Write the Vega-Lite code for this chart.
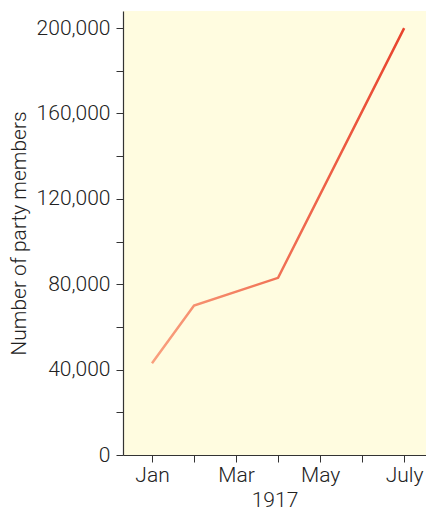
{
  "$schema": "https://vega.github.io/schema/vega-lite/v6.json",
  "width": 303,
  "height": 444,
  "autosize": "none",
  "padding": {"left": 123, "top": 11, "right": 0, "bottom": 55},
  "background": "white",
  "config": {
    "view": {"fill": "#fffce0", "stroke": null},
    "font": "Roboto, sans-serif",
    "axis": {
      "domainColor": "#333333",
      "domainWidth": 1.2,
      "tickColor": "#333333",
      "tickSize": 7,
      "labelColor": "#222222",
      "titleColor": "#222222",
      "labelFontSize": 21,
      "labelFontWeight": 300,
      "titleFontSize": 21,
      "titleFontWeight": 300,
      "grid": false
    }
  },
  "data": {
    "values": [
      {"month": 1, "members": 43000},
      {"month": 2, "members": 70000},
      {"month": 4, "members": 83000},
      {"month": 7, "members": 200000}
    ]
  },
  "mark": {
    "type": "line",
    "strokeWidth": 2.5,
    "color": {
      "x1": 0, "y1": 0, "x2": 1, "y2": 0,
      "gradient": "linear",
      "stops": [
        {"offset": 0, "color": "#f9a07e"},
        {"offset": 1, "color": "#e8442e"}
      ]
    }
  },
  "encoding": {
    "x": {
      "field": "month",
      "type": "quantitative",
      "scale": {"domain": [0.31, 7.52], "nice": false, "zero": false},
      "axis": {
        "title": "1917",
        "values": [1, 2, 3, 4, 5, 6, 7],
        "labelExpr": "datum.value == 1 ? 'Jan' : datum.value == 3 ? 'Mar' : datum.value == 5 ? 'May' : datum.value == 7 ? 'July' : ''",
        "labelPadding": 2,
        "titlePadding": 4
      }
    },
    "y": {
      "field": "members",
      "type": "quantitative",
      "scale": {"domain": [0, 208000], "nice": false},
      "axis": {
        "title": "Number of party members",
        "values": [0, 20000, 40000, 60000, 80000, 100000, 120000, 140000, 160000, 180000, 200000],
        "labelExpr": "datum.value % 40000 == 0 ? format(datum.value, ',') : ''",
        "labelPadding": 6,
        "titlePadding": 7
      }
    }
  }
}
